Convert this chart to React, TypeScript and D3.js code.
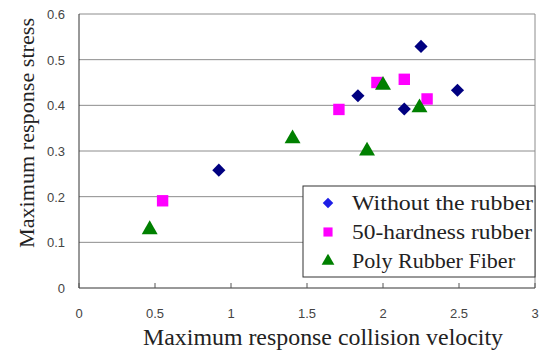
import React from "react";
import * as d3 from "d3";

const withoutX = [0.92, 1.835, 2.14, 2.25, 2.49];
const withoutY = [0.258, 0.421, 0.392, 0.529, 0.433];
const hardnessX = [0.55, 1.71, 1.96, 2.14, 2.29];
const hardnessY = [0.191, 0.391, 0.45, 0.457, 0.414];
const fiberX = [0.465, 1.405, 1.895, 2.0, 2.24];
const fiberY = [0.128, 0.327, 0.3, 0.444, 0.395];
const xTicks = [0, 0.5, 1, 1.5, 2, 2.5, 3];
const yTicks = [0, 0.1, 0.2, 0.3, 0.4, 0.5, 0.6];
const seriesNames = ["Without the rubber", "50-hardness rubber", "Poly Rubber Fiber"];
const legendWidths = [181, 180, 163];

const W = 550;
const H = 361;
const left = 79;
const right = 535;
const top = 14;
const bottom = 288;

const serif = "'Liberation Serif', 'Times New Roman', serif";
const sans = "'Liberation Sans', Arial, sans-serif";

const x = d3.scaleLinear().domain([0, 3]).range([left, right]);
const y = d3.scaleLinear().domain([0, 0.6]).range([bottom, top]);

const diamond = d3.symbol().type(d3.symbolDiamond2).size(110);
const square = d3.symbol().type(d3.symbolSquare).size(130);
const triangle = d3.symbol().type(d3.symbolTriangle).size(110);

const series = [
  { xs: withoutX, ys: withoutY, path: diamond(), fill: "#000080", legendFill: "#1e1ee6" },
  { xs: hardnessX, ys: hardnessY, path: square(), fill: "#ff00ff", legendFill: "#ff00ff" },
  { xs: fiberX, ys: fiberY, path: triangle(), fill: "#008000", legendFill: "#008000" },
];

export default function App() {
  return (
    <svg width={W} height={H} style={{ position: "absolute", left: 0, top: 0, background: "#fff" }}>
      {yTicks.filter((t) => t > 0).map((t) => (
        <line key={t} x1={left} x2={right} y1={y(t)} y2={y(t)} stroke="#8c8c8c" strokeWidth={1} />
      ))}
      <line x1={right} x2={right} y1={top} y2={bottom} stroke="#8c8c8c" strokeWidth={1} />
      <line x1={left} x2={left} y1={top} y2={bottom} stroke="#333" strokeWidth={1} />
      <line x1={left} x2={right} y1={bottom} y2={bottom} stroke="#333" strokeWidth={1} />
      {xTicks.map((t) => (
        <g key={t}>
          <line x1={x(t)} x2={x(t)} y1={bottom - 5} y2={bottom} stroke="#555" />
          <text x={x(t)} y={318} textAnchor="middle" fontFamily={sans} fontSize={13} fill="#444">
            {t}
          </text>
        </g>
      ))}
      {yTicks.map((t) => (
        <text key={t} x={65} y={y(t) + 5} textAnchor="end" fontFamily={sans} fontSize={13} fill="#444">
          {t}
        </text>
      ))}
      {series.map((s, i) =>
        s.xs.map((v, j) => (
          <path key={`${i}-${j}`} d={s.path ?? ""} transform={`translate(${x(v)},${y(s.ys[j])})`} fill={s.fill} />
        ))
      )}
      <rect x={303} y={186} width={232} height={91} fill="#fff" stroke="#333" strokeWidth={1} />
      {series.map((s, i) => (
        <g key={i} transform={`translate(0,${203 + i * 29})`}>
          <path d={s.path ?? ""} transform="translate(328,0) scale(0.8)" fill={s.legendFill} />
          <text
            x={352}
            y={7}
            fontFamily={serif}
            fontSize={21}
            fill="#222"
            textLength={legendWidths[i]}
            lengthAdjust="spacingAndGlyphs"
          >
            {seriesNames[i]}
          </text>
        </g>
      ))}
      <text
        x={323}
        y={345}
        textAnchor="middle"
        fontFamily={serif}
        fontSize={23}
        fill="#222"
        textLength={360}
        lengthAdjust="spacingAndGlyphs"
      >
        Maximum response collision velocity
      </text>
      <text
        transform="translate(34,133) rotate(-90)"
        textAnchor="middle"
        fontFamily={serif}
        fontSize={21}
        fill="#222"
        textLength={230}
        lengthAdjust="spacingAndGlyphs"
      >
        Maximum response stress
      </text>
    </svg>
  );
}
